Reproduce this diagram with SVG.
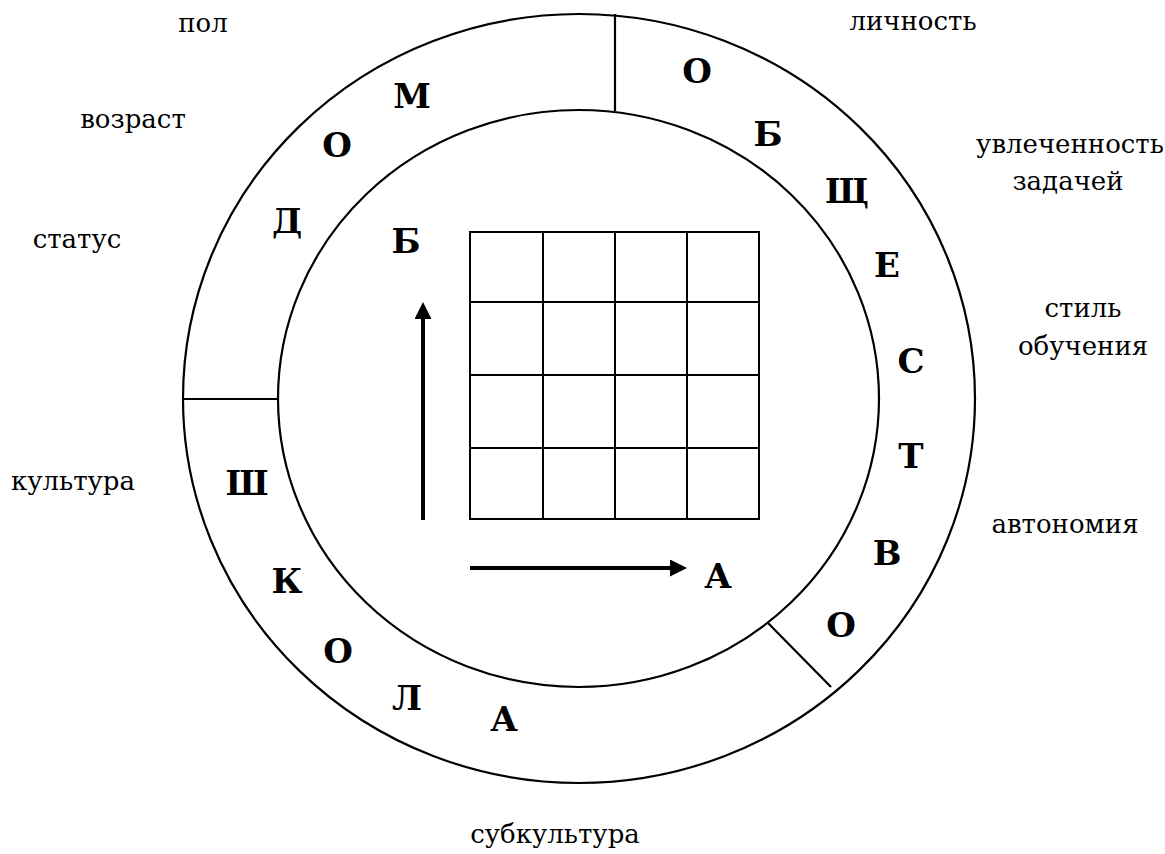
<svg xmlns="http://www.w3.org/2000/svg" width="1165" height="854" viewBox="0 0 1165 854">
<style>
.ring{fill:none;stroke:#000;stroke-width:2.2}
.div{stroke:#000;stroke-width:2.2;fill:none}
.grid{stroke:#000;stroke-width:2;fill:none}
.arr{stroke:#000;stroke-width:4;fill:none}
.big{font-family:'DejaVu Serif',serif;font-size:34px;font-weight:bold;text-anchor:middle;fill:#000}
.lbl{font-family:'DejaVu Serif',serif;font-size:26px;text-anchor:middle;fill:#000}
</style>
<defs>
<marker id="ah" markerUnits="userSpaceOnUse" markerWidth="18" markerHeight="18" refX="0" refY="8.5" orient="auto">
<path d="M0,0 L17,8.5 L0,17 z" fill="#000"/>
</marker>
</defs>
<rect width="1165" height="854" fill="#fff"/>
<g id="outer-ring"><ellipse class="ring" cx="579" cy="398.5" rx="396" ry="384.5"/></g>
<g id="inner-ring"><ellipse class="ring" cx="578.5" cy="398.5" rx="300.5" ry="288.5"/></g>
<g id="dividers">
<line class="div" x1="615" y1="14" x2="615" y2="111"/>
<line class="div" x1="183" y1="399" x2="278" y2="399"/>
<line class="div" x1="768" y1="623" x2="831" y2="687"/>
</g>
<g id="grid">
<rect class="grid" x="470" y="232" width="289" height="287"/>
<line class="grid" x1="543" y1="232" x2="543" y2="519"/>
<line class="grid" x1="615" y1="232" x2="615" y2="519"/>
<line class="grid" x1="687" y1="232" x2="687" y2="519"/>
<line class="grid" x1="470" y1="302" x2="759" y2="302"/>
<line class="grid" x1="470" y1="375" x2="759" y2="375"/>
<line class="grid" x1="470" y1="448" x2="759" y2="448"/>
</g>
<g id="connectors">
<line class="arr" x1="423" y1="520" x2="423" y2="319" marker-end="url(#ah)"/>
<line class="arr" x1="470" y1="568" x2="670" y2="568" marker-end="url(#ah)"/>
</g>
<g id="axis-labels">
<text class="big" x="406" y="253">Б</text>
<text class="big" x="718" y="588">А</text>
</g>
<g id="segment-dom">
<text class="big" x="287" y="233">Д</text>
<text class="big" x="337" y="157">О</text>
<text class="big" x="412" y="108">М</text>
</g>
<g id="segment-obshchestvo">
<text class="big" x="697" y="83">О</text>
<text class="big" x="768" y="146">Б</text>
<text class="big" x="847" y="203">Щ</text>
<text class="big" x="887" y="277">Е</text>
<text class="big" x="911" y="373">С</text>
<text class="big" x="911" y="468">Т</text>
<text class="big" x="887" y="565">В</text>
<text class="big" x="841" y="637">О</text>
</g>
<g id="segment-shkola">
<text class="big" x="247" y="495">Ш</text>
<text class="big" x="287" y="593">К</text>
<text class="big" x="338" y="663">О</text>
<text class="big" x="407" y="710">Л</text>
<text class="big" x="504" y="731">А</text>
</g>
<g id="factors">
<text class="lbl" x="203" y="32">пол</text>
<text class="lbl" x="133" y="128">возраст</text>
<text class="lbl" x="77" y="248">статус</text>
<text class="lbl" x="73" y="490">культура</text>
<text class="lbl" x="555" y="843">субкультура</text>
<text class="lbl" x="913" y="30">личность</text>
<text class="lbl" x="1070" y="153">увлеченность</text>
<text class="lbl" x="1068" y="190">задачей</text>
<text class="lbl" x="1083" y="317">стиль</text>
<text class="lbl" x="1083" y="355">обучения</text>
<text class="lbl" x="1065" y="533">автономия</text>
</g>
</svg>
